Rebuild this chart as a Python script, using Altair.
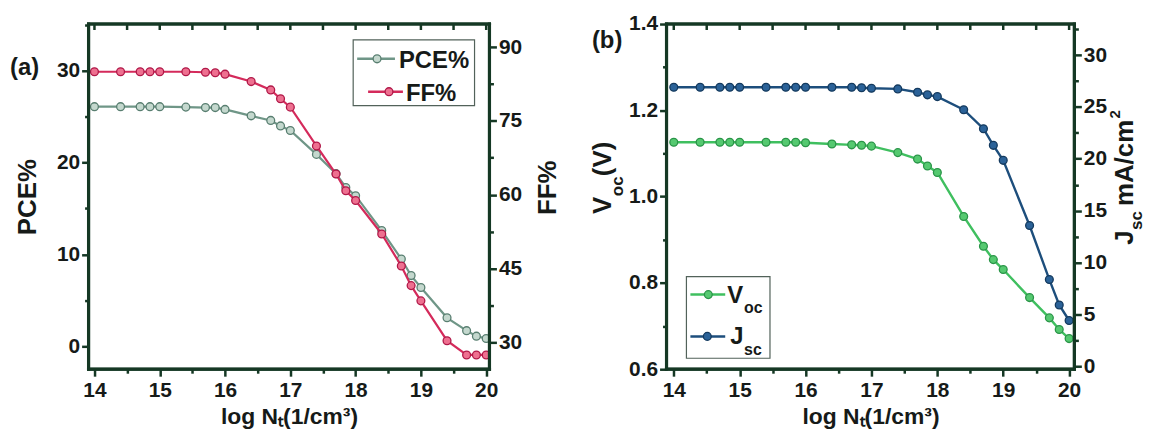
import altair as alt
import pandas as pd

# ---------------- data ----------------
log_nt = [14.0, 14.4, 14.7, 14.85, 15.0, 15.4, 15.7, 15.85, 16.0, 16.4, 16.7, 16.85,
          17.0, 17.4, 17.7, 17.85, 18.0, 18.4, 18.7, 18.85, 19.0, 19.4, 19.7, 19.85, 20.0]
pce = [26.1, 26.1, 26.1, 26.1, 26.1, 26.05, 26.0, 26.0, 25.8, 25.1, 24.6, 24.0,
       23.5, 20.9, 18.8, 17.3, 16.4, 12.6, 9.5, 7.7, 6.4, 3.1, 1.7, 1.1, 0.85]
ff = [85.0, 85.0, 85.0, 85.0, 85.0, 85.0, 84.9, 84.8, 84.5, 83.0, 81.3, 79.5,
      77.8, 69.9, 64.2, 60.8, 58.8, 52.0, 45.5, 41.5, 38.4, 30.3, 27.4, 27.4, 27.4]
voc = [1.126, 1.126, 1.126, 1.126, 1.126, 1.126, 1.126, 1.126, 1.125, 1.122, 1.120, 1.119,
       1.117, 1.102, 1.087, 1.071, 1.056, 0.954, 0.885, 0.854, 0.831, 0.766, 0.719, 0.692, 0.671]
jsc = [26.9, 26.9, 26.9, 26.9, 26.9, 26.9, 26.9, 26.9, 26.9, 26.9, 26.9, 26.85,
       26.8, 26.74, 26.42, 26.17, 26.0, 24.73, 22.9, 21.3, 19.85, 13.56, 8.35, 5.9, 4.4]

x_ticks = [14, 14.5, 15, 15.5, 16, 16.5, 17, 17.5, 18, 18.5, 19, 19.5, 20]
pce_ticks = [0, 5, 10, 15, 20, 25, 30, 35]
ff_ticks = [30, 37.5, 45, 52.5, 60, 67.5, 75, 82.5, 90]
voc_ticks = [0.6, 0.7, 0.8, 0.9, 1.0, 1.1, 1.2, 1.3, 1.4]
jsc_ticks = [0, 2.5, 5, 7.5, 10, 12.5, 15, 17.5, 20, 22.5, 25, 27.5, 30, 32.5]

series_a = ["PCE%", "FF%"]
series_b_main = ["V", "J"]
series_b_sub = ["oc", "sc"]
panel_tags = ["(a)", "(b)"]
x_title = "log Nₜ(1/cm³)"

df = pd.DataFrame({"logNt": log_nt, "PCE": pce, "FF": ff, "Voc": voc, "Jsc": jsc})
ticks_df = pd.DataFrame({"t": x_ticks})
one = pd.DataFrame({"k": [0]})

# ---------------- style ----------------
FONT = "Liberation Sans"
INK = "#161a18"
FRAME = "#153824"
PCE_C, PCE_F, PCE_S = "#6f9687", "#c4d8ce", "#587e70"
FF_C, FF_F, FF_S = "#d42a5b", "#ee7090", "#b01848"
VOC_C, VOC_F, VOC_S = "#3fbf5f", "#55c970", "#2a9448"
JSC_C, JSC_F, JSC_S = "#1d4e7c", "#2b6298", "#143a5e"

W_A, W_B, H = 403, 410, 347
MSIZE = 62


def cond_size(test):
    return {"condition": {"test": test, "value": 7}, "value": 4}


def x_bottom():
    return alt.Axis(orient="bottom", values=x_ticks,
                    labelExpr="datum.value % 1 === 0 ? format(datum.value, 'd') : ''",
                    labelOverlap=False, tickSize=cond_size("datum.value % 1 === 0"),
                    labelPadding=3, title=x_title, titlePadding=6, titleFontSize=23)


def overlay(fill, stroke):
    return alt.OverlayMarkDef(filled=True, fill=fill, stroke=stroke, strokeWidth=1.3,
                              size=MSIZE, opacity=1)


def txt(text, x, y, size=24, angle=0, align="left"):
    return alt.Chart(one).mark_text(text=text, align=align, baseline="alphabetic",
                                    angle=angle, font=FONT, fontSize=size,
                                    fontWeight="bold", color=INK).encode(
        x=alt.value(x), y=alt.value(y))


def leg_entry(x1, x2, xm, y, color, fill, stroke):
    line = alt.Chart(one).mark_rule(color=color, strokeWidth=2.5).encode(
        x=alt.value(x1), x2=alt.value(x2), y=alt.value(y))
    pt = alt.Chart(one).mark_point(filled=True, fill=fill, stroke=stroke, strokeWidth=1.3,
                                   size=MSIZE, opacity=1).encode(x=alt.value(xm), y=alt.value(y))
    return [line, pt]


def box(x1, x2, y1, y2):
    return alt.Chart(one).mark_rect(fill="white", stroke="#52625a", strokeWidth=1.2).encode(
        x=alt.value(x1), x2=alt.value(x2), y=alt.value(y1), y2=alt.value(y2))


def bar(x1, x2, y1, y2):
    return alt.Chart(one).mark_rect(fill=FRAME, opacity=1).encode(
        x=alt.value(x1), x2=alt.value(x2), y=alt.value(y1), y2=alt.value(y2))


def frame(w, h):
    t = 1.6
    return [bar(-t, t, -t, h + t), bar(w - t, w + t, -t, h + t),
            bar(-t, w + t, -t, t), bar(-t, w + t, h - t, h + t)]


def top_ticks(xscale):
    return alt.Chart(ticks_df).mark_rect(fill=FRAME, width=2.5, opacity=1).encode(
        x=alt.X("t:Q", scale=xscale, axis=x_bottom()), y=alt.value(0), y2=alt.value(6))


# ---------------- panel (a) ----------------
xs_a = alt.Scale(domain=[13.91, 20.05], nice=False, zero=False)

pce_layer = alt.Chart(df).mark_line(color=PCE_C, strokeWidth=2.2,
                                    point=overlay(PCE_F, PCE_S)).encode(
    x=alt.X("logNt:Q", scale=xs_a, axis=x_bottom()),
    y=alt.Y("PCE:Q", scale=alt.Scale(domain=[-2.5, 35.1], nice=False, zero=False),
            axis=alt.Axis(orient="left", values=pce_ticks,
                          labelExpr="datum.value % 10 === 0 ? datum.label : ''",
                          tickSize=cond_size("datum.value % 10 === 0"), labelPadding=2,
                          title=series_a[0], titlePadding=16)))

ff_layer = alt.Chart(df).mark_line(color=FF_C, strokeWidth=2.2,
                                   point=overlay(FF_F, FF_S)).encode(
    x=alt.X("logNt:Q", scale=xs_a, axis=x_bottom()),
    y=alt.Y("FF:Q", scale=alt.Scale(domain=[24.5, 94.7], nice=False, zero=False),
            axis=alt.Axis(orient="right", values=ff_ticks,
                          labelExpr="datum.value % 15 === 0 ? datum.label : ''",
                          tickSize=cond_size("datum.value % 15 === 0"), labelPadding=2,
                          title="")))

deco_a = [box(266, 388, 16, 82), top_ticks(xs_a)] + frame(W_A, H)
deco_a += leg_entry(270, 308, 290, 35, PCE_C, PCE_F, PCE_S)
deco_a += leg_entry(281, 316, 302, 68, FF_C, FF_F, FF_S)
deco_a += [txt(series_a[0], 312, 44), txt(series_a[1], 319, 77), txt(panel_tags[0], -79, 51),
           txt(series_a[1], 470, 192, size=26, angle=270)]

chart_a = alt.layer(pce_layer, ff_layer, *deco_a).resolve_scale(
    y="independent").properties(width=W_A, height=H)

# ---------------- panel (b) ----------------
xs_b = alt.Scale(domain=[13.89, 20.08], nice=False, zero=False)

voc_layer = alt.Chart(df).mark_line(color=VOC_C, strokeWidth=2.4,
                                    point=overlay(VOC_F, VOC_S)).encode(
    x=alt.X("logNt:Q", scale=xs_b, axis=x_bottom()),
    y=alt.Y("Voc:Q", scale=alt.Scale(domain=[0.6, 1.4], nice=False, zero=False),
            axis=alt.Axis(orient="left", values=voc_ticks,
                          labelExpr="round(datum.value * 10) % 2 === 0 ? format(datum.value, '.1f') : ''",
                          tickSize=cond_size("round(datum.value * 10) % 2 === 0"),
                          labelPadding=2, title="")))

jsc_layer = alt.Chart(df).mark_line(color=JSC_C, strokeWidth=2.4,
                                    point=overlay(JSC_F, JSC_S)).encode(
    x=alt.X("logNt:Q", scale=xs_b, axis=x_bottom()),
    y=alt.Y("Jsc:Q", scale=alt.Scale(domain=[-0.3, 33], nice=False, zero=False),
            axis=alt.Axis(orient="right", values=jsc_ticks,
                          labelExpr="datum.value % 5 === 0 ? datum.label : ''",
                          tickSize=cond_size("datum.value % 5 === 0"),
                          labelPadding=2, title="")))

deco_b = [box(20, 104, 254, 336), top_ticks(xs_b)] + frame(W_B, H)
deco_b += leg_entry(24, 59, 42, 272, VOC_C, VOC_F, VOC_S)
deco_b += leg_entry(24, 59, 41, 314, JSC_C, JSC_F, JSC_S)
deco_b += [
    txt(series_b_main[0], 61, 280), txt(series_b_sub[0], 78, 290, size=16),
    txt(series_b_main[1], 64, 322), txt(series_b_sub[1], 78, 333, size=16),
    txt(panel_tags[1], -75, 24),
    # left axis title  V_oc(V)
    txt("V", -56, 191, size=26, angle=270), txt("oc", -44, 173, size=17, angle=270),
    txt("(V)", -56, 153, size=26, angle=270),
    # right axis title  J_sc mA/cm^2
    txt("J", 469, 222, size=26, angle=270), txt("sc", 478, 207, size=17, angle=270),
    txt("mA/cm", 469, 183, size=26, angle=270), txt("2", 456, 95, size=15, angle=270),
]

chart_b = alt.layer(voc_layer, jsc_layer, *deco_b).resolve_scale(
    y="independent").properties(width=W_B, height=H)

chart = alt.hconcat(chart_a, chart_b, spacing=178).properties(
    bounds="flush", padding={"left": 0, "top": 2, "right": 0, "bottom": 0}
).configure_axis(
    domain=False, grid=False, tickColor=FRAME, tickWidth=2.5,
    labelFont=FONT, labelFontSize=21, labelFontWeight="bold", labelColor=INK,
    titleFont=FONT, titleFontSize=26, titleFontWeight="bold", titleColor=INK,
).configure_view(stroke=FRAME, strokeWidth=3)

chart.save("out.html", embed_options={"renderer": "svg", "actions": False})
